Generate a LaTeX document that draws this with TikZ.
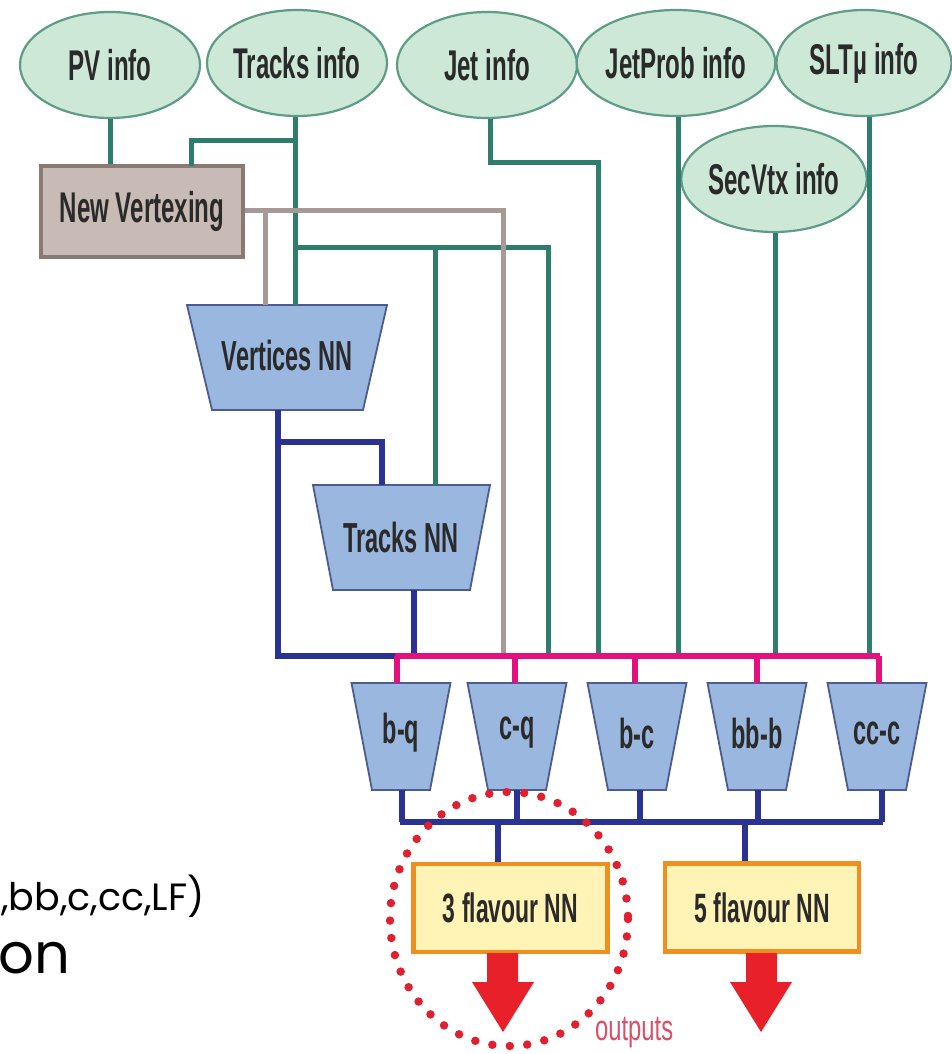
\documentclass[tikz,border=0pt]{standalone}
\usepackage{fontspec}
\setmainfont{Liberation Sans}
\newfontfamily\narrowfont[FakeStretch=0.56]{Liberation Sans}
\newfontfamily\outfont[FakeStretch=0.66]{Liberation Sans}
\newfontfamily\slidefont{Poppins}
\usetikzlibrary{shapes.geometric}
\definecolor{ellfill}{HTML}{CDE8D6}
\definecolor{elldraw}{HTML}{5E9C88}
\definecolor{teal}{HTML}{2F7D6C}
\definecolor{navy}{HTML}{2B3392}
\definecolor{pinkbus}{HTML}{E2117F}
\definecolor{grayline}{HTML}{A79A96}
\definecolor{nvfill}{HTML}{C8BAB4}
\definecolor{nvdraw}{HTML}{8A7A74}
\definecolor{trapfill}{HTML}{9AB7DF}
\definecolor{trapdraw}{HTML}{4C5C8E}
\definecolor{boxfill}{HTML}{FFF3B6}
\definecolor{boxdraw}{HTML}{EF8F1F}
\definecolor{arrred}{HTML}{E8202A}
\definecolor{dotred}{HTML}{E0202E}
\definecolor{outred}{HTML}{D8506A}
\definecolor{txt}{HTML}{2A2A2A}
\tikzset{
  info/.style={ellipse, draw=elldraw, fill=ellfill, line width=2.2pt, minimum width=180pt, minimum height=106pt, inner sep=0pt, text=txt, font=\narrowfont\bfseries\fontsize{43}{48}\selectfont},
  lbl/.style={inner sep=0pt, text=txt, font=\narrowfont\bfseries\fontsize{42}{48}\selectfont},
  trapshape/.style={draw=trapdraw, fill=trapfill, line width=1.8pt, line join=miter},
  tealline/.style={draw=teal, line width=5pt},
  grayl/.style={draw=grayline, line width=5pt},
  navyl/.style={draw=navy, line width=5.5pt},
  pinkl/.style={draw=pinkbus, line width=6pt},
  flavbox/.style={draw=boxdraw, fill=boxfill, line width=4.5pt, minimum width=194pt, minimum height=88pt, inner sep=0pt, text=txt, font=\narrowfont\bfseries\fontsize{41}{48}\selectfont},
  redarrow/.style={fill=arrred, draw=none}
}
\begin{document}
\begin{tikzpicture}[x=1pt,y=-1pt]
\useasboundingbox (0,0) rectangle (951,1054);
\fill[white] (0,0) rectangle (951,1054);

% info ellipses
\node[info] (pv) at (110,65) {PV info};
\node[info] (tracks) at (297,63) {Tracks info};
\node[info] (jet) at (487,65) {Jet info};
\node[info] (jetprob) at (676,63) {JetProb info};
\node[info, minimum width=175pt] (slt) at (864,63) {SLT\textmu\ info};
\node[info] (secvtx) at (774,179) {SecVtx info};

% new vertexing
\node[draw=nvdraw, fill=nvfill, line width=3.5pt, minimum width=202pt, minimum height=91pt, inner sep=0pt, text=txt, font=\narrowfont\bfseries\fontsize{43}{48}\selectfont] (nv) at (142,211.5) {New Vertexing};

% trapezoids (drawn) + label nodes
\path[trapshape] (187,305) -- (387,305) -- (363,410) -- (212,410) -- cycle;
\node[lbl] (vnn) at (287,355) {Vertices NN};
\coordinate (vnnBot) at (278,410);
\path[trapshape] (313,485) -- (490,485) -- (470,590) -- (333,590) -- cycle;
\node[lbl] (tnn) at (401,537) {Tracks NN};
\coordinate (tnnBot) at (414,590);

\foreach \cx/\nm/\t in {401/bq/b-q, 517/cq/c-q, 637/bc/b-c, 757/bbb/bb-b, 877/ccc/cc-c}{
  \path[trapshape] (\cx-49.5,683) -- (\cx+49.5,683) -- (\cx+29,790) -- (\cx-29,790) -- cycle;
  \node[lbl] (\nm) at (\cx,733) {\t};
}

% bus coordinates
\coordinate (pinkL) at (395,656);
\coordinate (pinkR) at (880,656);
\coordinate (navyL) at (400,822);
\coordinate (navyR) at (883,822);

% flavour boxes
\node[flavbox] (f3) at (510.5,908) {3 flavour NN};
\node[flavbox] (f5) at (762,907.5) {5 flavour NN};

% teal connectors
\draw[tealline] (pv.south) -- (pv.south |- nv.north);
\draw[tealline] (tracks.south -| 295,0) -- (295,305);
\draw[tealline] (295,140) -- (191,140) -- (191,166);
\draw[tealline] (295,247) -- (548,247) -- (548,656);
\draw[tealline] (435,247) -- (435,485);
\draw[tealline] (jet.south -| 490,0) -- (490,162) -- (598,162) -- (598,656);
\draw[tealline] (jetprob.south -| 678,0) -- (678,656);
\draw[tealline] (secvtx.south -| 775,0) -- (775,656);
\draw[tealline] (slt.south -| 869,0) -- (869,656);

% gray connectors
\draw[grayl] (nv.east |- 0,210) -- (503,210) -- (503,656);
\draw[grayl] (265,210) -- (265,305);

% navy connectors
\draw[navyl] (vnnBot) -- (278,656) -- (pinkL);
\draw[navyl] (278,442) -- (382,442) -- (382,485);
\draw[navyl] (tnnBot) -- (414,656);

% pink bus
\draw[pinkl] (pinkL) -- (pinkR);
\draw[pinkl] (397,656) -- (397,683);
\draw[pinkl] (515,656) -- (515,683);
\draw[pinkl] (635,656) -- (635,683);
\draw[pinkl] (757,656) -- (757,683);
\draw[pinkl] (879,656) -- (879,683);

% lower navy bus
\draw[navyl] (402,790) -- (402,822);
\draw[navyl] (517,790) -- (517,822);
\draw[navyl] (640,790) -- (640,822);
\draw[navyl] (758,790) -- (758,822);
\draw[navyl] (882,790) -- (882,822);
\draw[navyl] (navyL) -- (navyR);
\draw[navyl] (f3.north -| 498,0) -- (498,822);
\draw[navyl] (f5.north -| 745,0) -- (745,822);

% redraw boxes on top
\node[flavbox] at (510.5,908) {3 flavour NN};
\node[flavbox] at (762,907.5) {5 flavour NN};

% red output arrows
\fill[redarrow] (487,953) -- (518,953) -- (518,982) -- (534,982) -- (503,1032) -- (472,982) -- (487,982) -- cycle;
\fill[redarrow] (746,953) -- (777,953) -- (777,982) -- (792,982) -- (761,1032) -- (730,982) -- (746,982) -- cycle;

% dotted circle
\draw[dotred, line width=8.5pt, line cap=round, dash pattern=on 0pt off 17.5pt] (509,919) ellipse [x radius=119, y radius=127];
\node[anchor=base west, inner sep=0pt, text=outred, font=\outfont\fontsize{36}{40}\selectfont] (outlbl) at (595,1040) {outputs};

% cut-off slide text on the left
\node[anchor=base west, inner sep=0pt, font=\slidefont\fontsize{38}{40}\selectfont] (slide1) at (1,910) {,bb,c,cc,LF)};
\node[anchor=base west, inner sep=0pt, font=\slidefont\fontsize{56}{60}\selectfont] (slide2) at (-2,973) {on};
\end{tikzpicture}
\end{document}
